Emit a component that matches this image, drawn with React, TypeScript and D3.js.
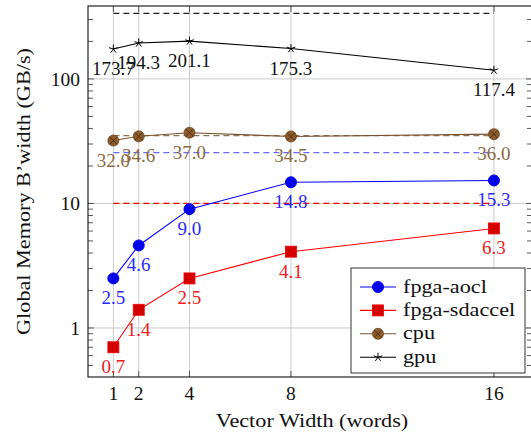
import React, { useEffect, useRef } from 'react';
import * as d3 from 'd3';

// vector widths (words)
const widths = [1, 2, 4, 8, 16];
const aocl = [2.5, 4.6, 9.0, 14.8, 15.3];
const sdaccel = [0.7, 1.4, 2.5, 4.1, 6.3];
const cpu = [32.0, 34.6, 37.0, 34.5, 36.0];
const gpu = [173.7, 194.3, 201.1, 175.3, 117.4];
// peak bandwidth reference lines
const peakNames = ['gpu', 'cpu', 'fpga-aocl', 'fpga-sdaccel'];
const peakValues = [336, 35, 25.6, 10];
const yTicks = [1, 10, 100];

const FONT = '"Liberation Serif", "DejaVu Serif", serif';
// Liberation is narrower than Computer Modern, widen word labels a bit
const WIDEN = 1.14;

const App = () => {
  const ref = useRef<SVGSVGElement | null>(null);

  useEffect(() => {
    const svg = d3.select(ref.current);
    svg.selectAll('*').remove();

    const left = 88, right = 532, top = 6, bottom = 377;

    const x = d3.scaleLinear().domain([0, 17.5]).range([left, right]);
    const y = d3.scaleLog().domain([0.404, 385]).range([bottom, top]);

    const series = [
      { name: 'fpga-aocl', values: aocl, line: '#0000ff', fill: '#0000ee', label: '#2a2aff', marker: 'circle' },
      { name: 'fpga-sdaccel', values: sdaccel, line: '#ff0000', fill: '#d40000', label: '#f02020', marker: 'square' },
      { name: 'cpu', values: cpu, line: '#7a5230', fill: '#8c5a2b', label: '#8b6a42', marker: 'otimes' },
      { name: 'gpu', values: gpu, line: '#000000', fill: '#000000', label: '#111111', marker: 'star' },
    ];
    const peakColor: Record<string, string> = {
      gpu: '#222222', cpu: '#8a7456', 'fpga-aocl': '#6a6aff', 'fpga-sdaccel': '#ee0000',
    };

    // grid
    const grid = svg.append('g').attr('stroke', '#cccccc').attr('stroke-width', 1);
    widths.forEach(w => {
      grid.append('line').attr('x1', x(w)).attr('x2', x(w)).attr('y1', top).attr('y2', bottom);
    });
    yTicks.forEach(t => {
      grid.append('line').attr('x1', left).attr('x2', right).attr('y1', y(t)).attr('y2', y(t));
    });

    // minor ticks on both sides
    const minor: number[] = [];
    [0.1, 1, 10, 100].forEach(d => {
      for (let k = 2; k <= 9; k++) {
        const v = d * k;
        if (v > 0.404 && v < 385) minor.push(v);
      }
    });
    const ticks = svg.append('g').attr('stroke', '#333').attr('stroke-width', 0.8);
    minor.forEach(v => {
      ticks.append('line').attr('x1', left).attr('x2', left + 5).attr('y1', y(v)).attr('y2', y(v));
      ticks.append('line').attr('x1', right - 5).attr('x2', right).attr('y1', y(v)).attr('y2', y(v));
    });
    yTicks.forEach(v => {
      ticks.append('line').attr('x1', left).attr('x2', left + 6).attr('y1', y(v)).attr('y2', y(v));
      ticks.append('line').attr('x1', right - 6).attr('x2', right).attr('y1', y(v)).attr('y2', y(v));
    });
    widths.forEach(w => {
      ticks.append('line').attr('x1', x(w)).attr('x2', x(w)).attr('y1', bottom).attr('y2', bottom - 6);
      ticks.append('line').attr('x1', x(w)).attr('x2', x(w)).attr('y1', top).attr('y2', top + 6);
    });

    // peak lines
    peakNames.forEach((n, i) => {
      svg.append('line')
        .attr('x1', x(widths[0])).attr('x2', x(widths[widths.length - 1]))
        .attr('y1', y(peakValues[i])).attr('y2', y(peakValues[i]))
        .attr('stroke', peakColor[n]).attr('stroke-width', 1.2)
        .attr('stroke-dasharray', '6,4');
    });

    const drawMarker = (g: any, kind: string, cx: number, cy: number, fill: string) => {
      if (kind === 'circle') {
        g.append('circle').attr('cx', cx).attr('cy', cy).attr('r', 5.5).attr('fill', fill).attr('stroke', fill);
      } else if (kind === 'square') {
        g.append('rect').attr('x', cx - 5.5).attr('y', cy - 5.5).attr('width', 11).attr('height', 11)
          .attr('fill', fill).attr('stroke', '#ee0000').attr('stroke-width', 0.8);
      } else if (kind === 'otimes') {
        const r = 5.5;
        g.append('circle').attr('cx', cx).attr('cy', cy).attr('r', r).attr('fill', fill).attr('stroke', '#6b4420').attr('stroke-width', 0.8);
        const d = r * 0.7;
        g.append('path')
          .attr('d', `M${cx - d},${cy - d}L${cx + d},${cy + d}M${cx - d},${cy + d}L${cx + d},${cy - d}`)
          .attr('stroke', '#4a2e12').attr('stroke-width', 0.9);
      } else {
        const r = 4.5;
        let p = '';
        for (let k = 0; k < 5; k++) {
          const a = -Math.PI / 2 + k * 2 * Math.PI / 5;
          p += `M${cx},${cy}L${cx + r * Math.cos(a)},${cy + r * Math.sin(a)}`;
        }
        g.append('path').attr('d', p).attr('stroke', fill).attr('stroke-width', 1);
      }
    };

    const line = d3.line<number>()
      .x((_, i) => x(widths[i]))
      .y(d => y(d));

    series.forEach(s => {
      svg.append('path').datum(s.values)
        .attr('fill', 'none').attr('stroke', s.line).attr('stroke-width', 1.1)
        .attr('d', line);
      const g = svg.append('g');
      s.values.forEach((v, i) => drawMarker(g, s.marker, x(widths[i]), y(v), s.fill));
    });

    // value labels below points
    series.forEach(s => {
      s.values.forEach((v, i) => {
        svg.append('text')
          .attr('x', x(widths[i])).attr('y', y(v) + 26)
          .attr('text-anchor', 'middle')
          .attr('font-family', FONT).attr('font-size', 19)
          .attr('fill', s.label)
          .text(v.toFixed(1));
      });
    });

    // frame
    svg.append('rect').attr('x', left).attr('y', top).attr('width', right - left).attr('height', bottom - top)
      .attr('fill', 'none').attr('stroke', '#111').attr('stroke-width', 1.1);

    // tick labels
    yTicks.forEach(t => {
      svg.append('text').attr('x', 80).attr('y', y(t) + 7)
        .attr('text-anchor', 'end').attr('font-family', FONT).attr('font-size', 19.5)
        .attr('fill', '#111').text(String(t));
    });
    widths.forEach(w => {
      svg.append('text').attr('x', x(w)).attr('y', 399.5)
        .attr('text-anchor', 'middle').attr('font-family', FONT).attr('font-size', 19.5)
        .attr('fill', '#111').text(String(w));
    });

    // axis titles
    svg.append('text')
      .attr('transform', `translate(312,427) scale(${WIDEN},1)`)
      .attr('text-anchor', 'middle').attr('font-family', FONT).attr('font-size', 19.5)
      .attr('fill', '#111').text('Vector Width (words)');
    svg.append('text')
      .attr('transform', `translate(30,${(top + bottom) / 2}) rotate(-90) scale(${WIDEN},1)`)
      .attr('text-anchor', 'middle').attr('font-family', FONT).attr('font-size', 19.5)
      .attr('fill', '#111').text('Global Memory B\u2019width (GB/s)');

    // legend
    const lg = svg.append('g');
    lg.append('rect').attr('x', 351).attr('y', 268).attr('width', 174).attr('height', 105)
      .attr('fill', '#fff').attr('stroke', '#333').attr('stroke-width', 1);
    series.forEach((s, i) => {
      const cy = 287 + i * 23.4;
      lg.append('line').attr('x1', 360).attr('x2', 396).attr('y1', cy).attr('y2', cy)
        .attr('stroke', s.line).attr('stroke-width', 1.1);
      drawMarker(lg, s.marker, 378, cy, s.fill);
      lg.append('text')
        .attr('transform', `translate(403,${cy + 5.5}) scale(${WIDEN},1)`)
        .attr('font-family', FONT).attr('font-size', 19.5).attr('fill', '#111').text(s.name);
    });
  }, []);

  return (
    <svg ref={ref} width={531} height={434}
      style={{ position: 'absolute', left: 0, top: 0, background: '#fff' }} />
  );
};

export default App;
